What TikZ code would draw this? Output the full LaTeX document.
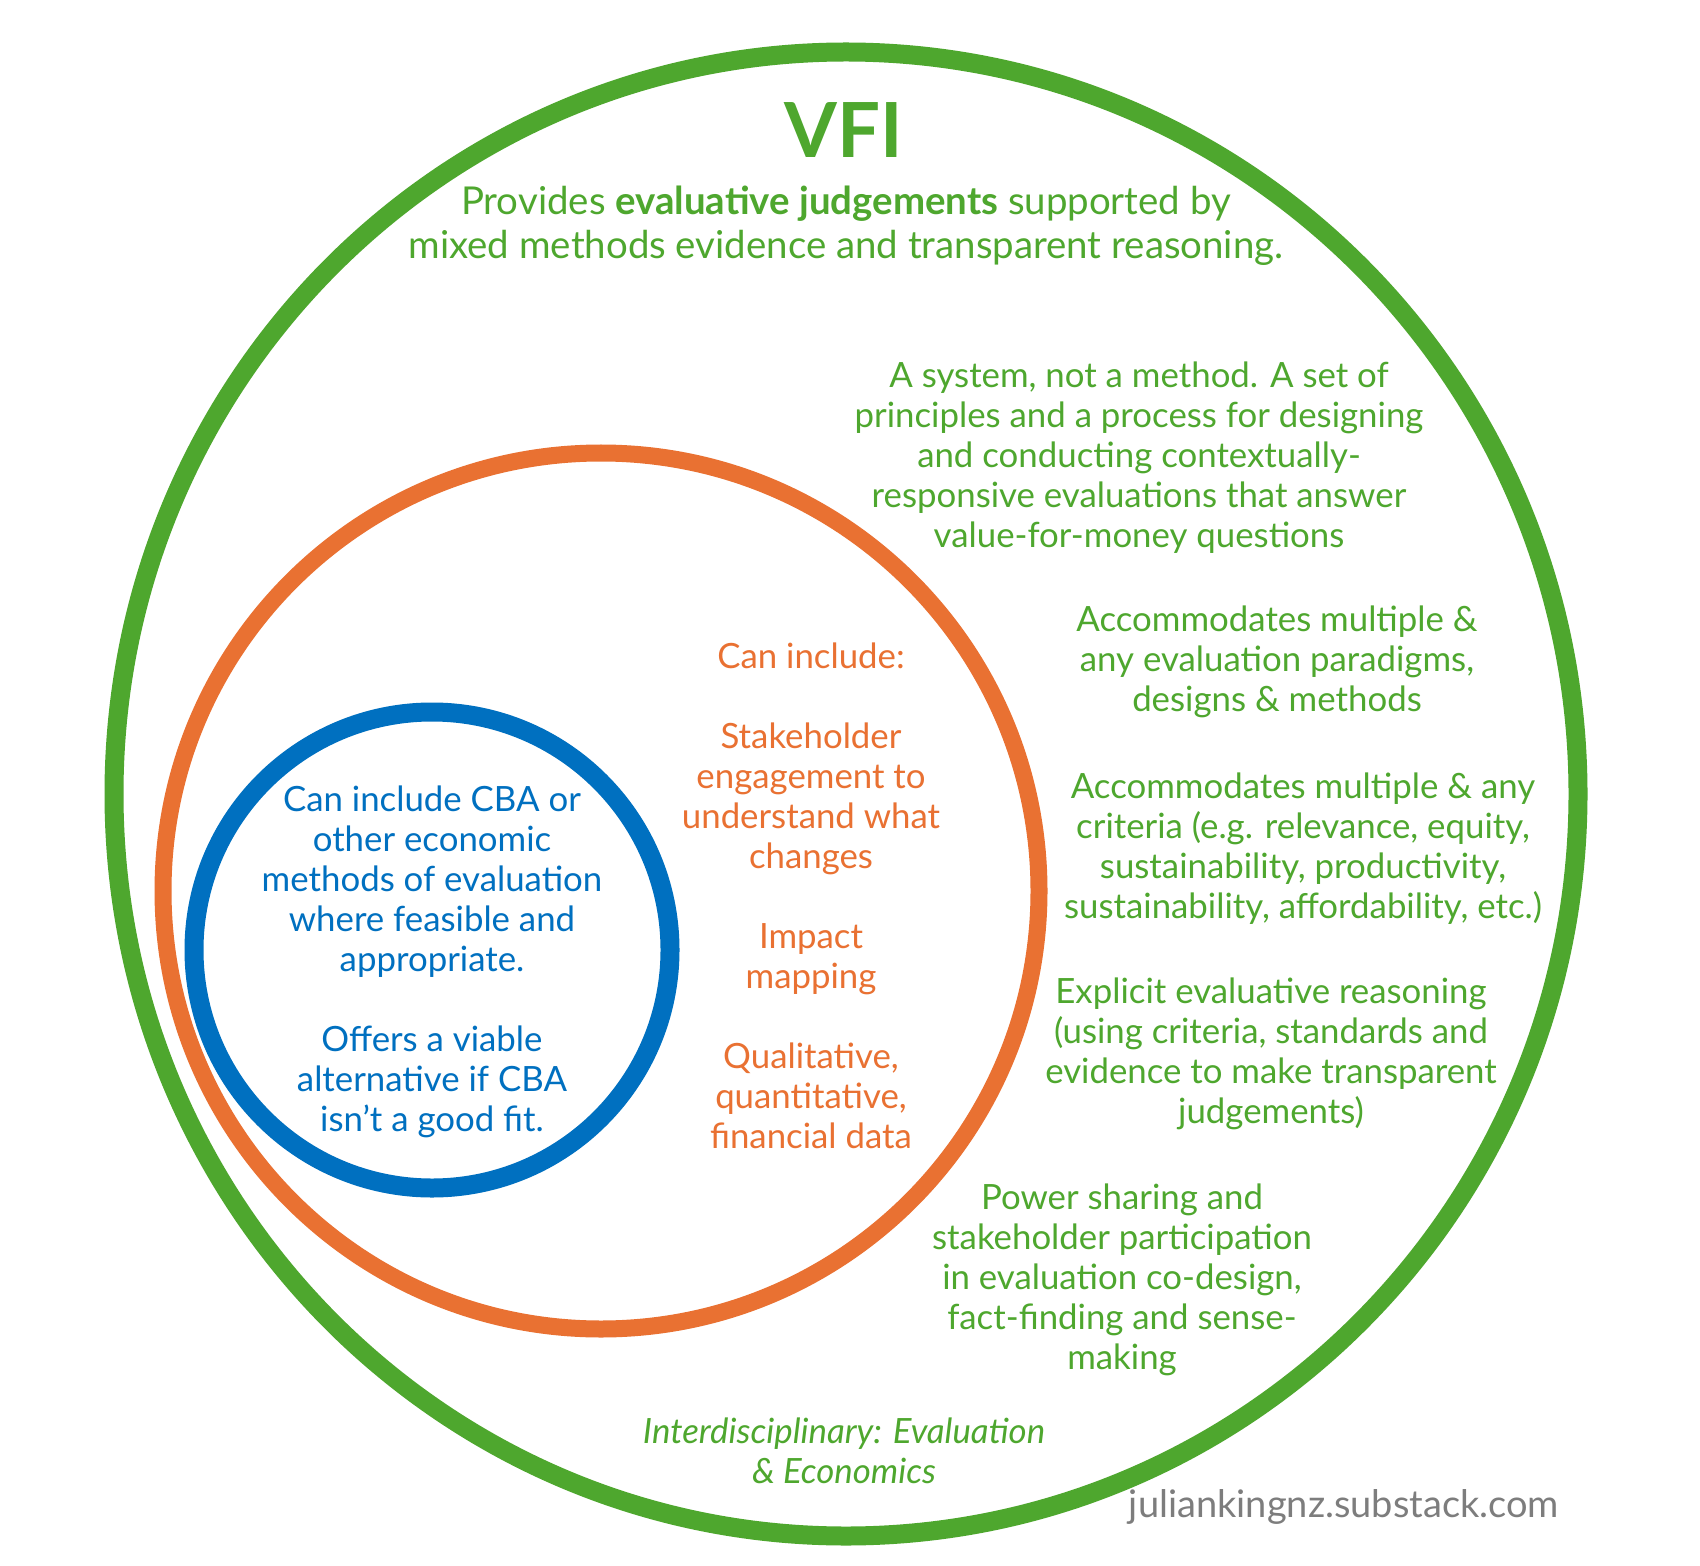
\documentclass[tikz,border=0pt]{standalone}
\usepackage{fontspec}
\setmainfont{Lato}
\usepackage{tikz}
\definecolor{vfigreen}{RGB}{78,167,46}
\definecolor{vfiorange}{RGB}{233,113,50}
\definecolor{vfiblue}{RGB}{0,112,192}
\definecolor{urlgray}{RGB}{125,125,125}

\begin{document}
\begin{tikzpicture}[x=0.5pt,y=-0.5pt,
  ring/.style={line width=9.5pt},
  txt/.style={align=center,inner sep=0pt,font=\fontsize{17.4}{20}\selectfont},
  greentxt/.style={txt,text=vfigreen}]
\useasboundingbox (0,0) rectangle (1700,1566);
\fill[white] (0,0) rectangle (1700,1566);
\draw [ring,vfigreen] (846,794) ellipse [x radius=366pt,y radius=371pt];
\draw [ring,vfiorange,line width=8.5pt] (601,891) circle [radius=219pt];
\draw [ring,vfiblue] (432,950) circle [radius=119pt];

\node[text=vfigreen,font=\fontsize{38}{40}\selectfont\bfseries] (vfi) at (844,130) {VFI};
\node[greentxt,font=\fontsize{19.2}{21.8}\selectfont] (judge) at (846,226)
  {Provides \textbf{evaluative judgements} supported by\\
   mixed methods evidence and transparent reasoning.};

\node[greentxt] (system) at (1139,458) {A system, not a method. A set of\\
  principles and a process for designing\\ and conducting contextually-\\
  responsive evaluations that answer\\ value-for-money questions};
\node[greentxt] (paradigms) at (1277,662) {Accommodates multiple \&\\
  any evaluation paradigms,\\ designs \& methods};
\node[greentxt] (criteria) at (1303,849) {Accommodates multiple \& any\\
  criteria (e.g. relevance, equity,\\ sustainability, productivity,\\
  sustainability, affordability, etc.)};
\node[greentxt] (reasoning) at (1271,1054) {Explicit evaluative reasoning\\
  (using criteria, standards and\\ evidence to make transparent\\ judgements)};
\node[greentxt] (power) at (1122,1280) {Power sharing and\\
  stakeholder participation\\ in evaluation co-design,\\
  fact-finding and sense-\\ making};
\node[greentxt,font=\fontsize{17.4}{20}\selectfont\itshape] (interdisc) at (844,1451)
  {Interdisciplinary: Evaluation\\ \& Economics};

\node[txt,text=vfiorange] (include) at (811,896) {Can include:\\[20pt]
  Stakeholder\\ engagement to\\ understand what\\ changes\\[20pt]
  Impact\\ mapping\\[20pt]
  Qualitative,\\ quantitative,\\ financial data};
\node[txt,text=vfiblue] (cba) at (432,962) {Can include CBA or\\
  other economic\\ methods of evaluation\\ where feasible and\\ appropriate.\\[20pt]
  Offers a viable\\ alternative if CBA\\ isn’t a good fit.};

\node[txt,text=urlgray,font=\fontsize{19}{20}\selectfont] (url) at (1344,1507) {juliankingnz.substack.com};
%\draw[red] (0,794) -- (1700,794);
\end{tikzpicture}
\end{document}
